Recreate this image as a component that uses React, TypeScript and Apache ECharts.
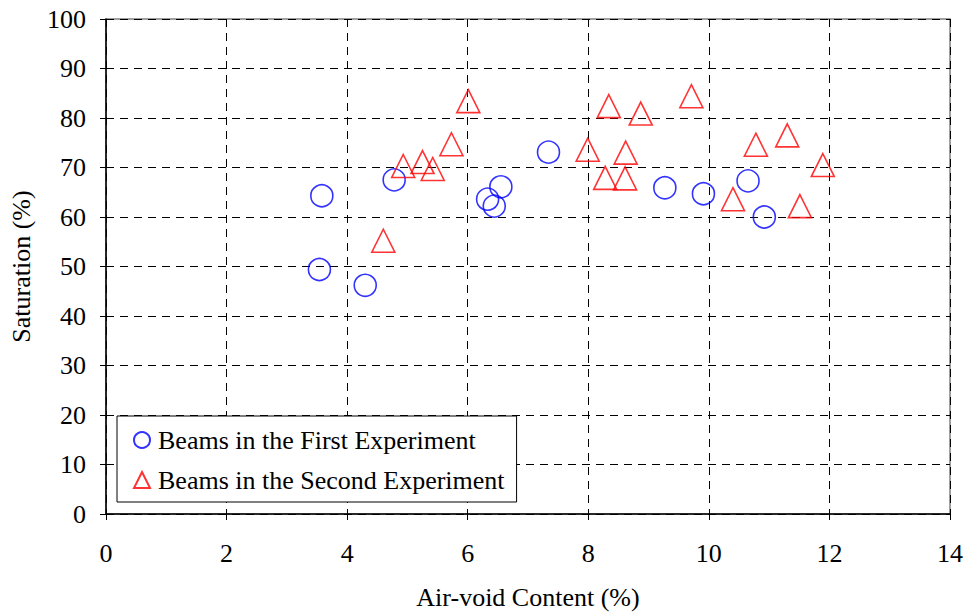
import React, { useEffect, useRef } from "react";
import * as echarts from "echarts";

const firstX = [3.58, 3.54, 4.30, 4.78, 6.33, 6.44, 6.55, 7.34, 9.27, 9.91, 10.65, 10.92];
const firstY = [64.3, 49.4, 46.2, 67.5, 63.6, 62.2, 66.1, 73.1, 65.9, 64.7, 67.3, 60.0];
const secondX = [4.60, 4.93, 5.25, 5.42, 5.73, 6.01, 7.99, 8.28, 8.34, 8.61, 8.62, 8.87, 9.71, 10.40, 10.78, 11.30, 11.51, 11.89];
const secondY = [55.2, 70.3, 71.1, 69.7, 74.7, 83.4, 73.6, 67.9, 82.4, 67.8, 73.0, 80.9, 84.4, 63.6, 74.6, 76.5, 62.2, 70.5];
const seriesNames = ["Beams in the First Experiment", "Beams in the Second Experiment"];
const xTitle = "Air-void Content (%)";
const yTitle = "Saturation (%)";

const FONT = "'Liberation Serif', 'Times New Roman', serif";
const FS = 26;

export default function App() {
  const ref = useRef<HTMLDivElement>(null);
  useEffect(() => {
    if (!ref.current) return;
    const chart = echarts.init(ref.current, null, { renderer: "svg" });
    const pair = (xs: number[], ys: number[]) => xs.map((x, i) => [x, ys[i]]);
    chart.setOption({
      animation: false,
      backgroundColor: "#ffffff",
      textStyle: { fontFamily: FONT, color: "#000" },
      grid: {
        left: 106,
        top: 19,
        right: 19,
        bottom: 98,
        show: true,
        borderColor: "#808080",
        borderWidth: 1.5,
        backgroundColor: "transparent",
      },
      legend: {
        orient: "vertical",
        left: 117,
        top: 416,
        padding: [11, 12, 9, 16],
        itemGap: 14,
        itemWidth: 16,
        itemHeight: 16,
        borderColor: "#000",
        borderWidth: 1,
        backgroundColor: "#fff",
        textStyle: { fontFamily: FONT, fontSize: FS, color: "#000", padding: [0, 0, 0, 3] },
        data: seriesNames,
      },
      xAxis: {
        type: "value",
        min: 0,
        max: 14,
        interval: 2,
        name: xTitle,
        nameLocation: "middle",
        nameGap: 70,
        nameTextStyle: { fontFamily: FONT, fontSize: FS, color: "#000" },
        axisLine: { show: true, onZero: false, lineStyle: { color: "#000", width: 1.5 } },
        axisTick: { show: true, length: 6, lineStyle: { color: "#000" } },
        axisLabel: { fontFamily: FONT, fontSize: FS, color: "#000", margin: 26 },
        splitLine: { show: true, lineStyle: { color: "#000", type: [8, 6], width: 1 } },
      },
      yAxis: {
        type: "value",
        min: 0,
        max: 100,
        interval: 10,
        name: yTitle,
        nameLocation: "middle",
        nameGap: 72,
        nameTextStyle: { fontFamily: FONT, fontSize: FS, color: "#000" },
        axisLine: { show: true, onZero: false, lineStyle: { color: "#000", width: 1.5 } },
        axisTick: { show: true, length: 6, lineStyle: { color: "#000" } },
        axisLabel: { fontFamily: FONT, fontSize: FS, color: "#000", margin: 20 },
        splitLine: { show: true, lineStyle: { color: "#000", type: [8, 6], width: 1 } },
      },
      series: [
        {
          name: seriesNames[0],
          type: "scatter",
          symbol: "circle",
          symbolSize: 22,
          itemStyle: { color: "rgba(255,255,255,0)", borderColor: "#0000ff", borderWidth: 1.6 },
          data: pair(firstX, firstY),
        },
        {
          name: seriesNames[1],
          type: "scatter",
          symbol: "triangle",
          symbolSize: [23, 23],
          itemStyle: { color: "rgba(255,255,255,0)", borderColor: "#ff0000", borderWidth: 1.6 },
          data: pair(secondX, secondY),
        },
      ],
    });
    return () => chart.dispose();
  }, []);
  return <div ref={ref} style={{ width: 969, height: 615, position: "absolute", left: 0, top: 0 }} />;
}
